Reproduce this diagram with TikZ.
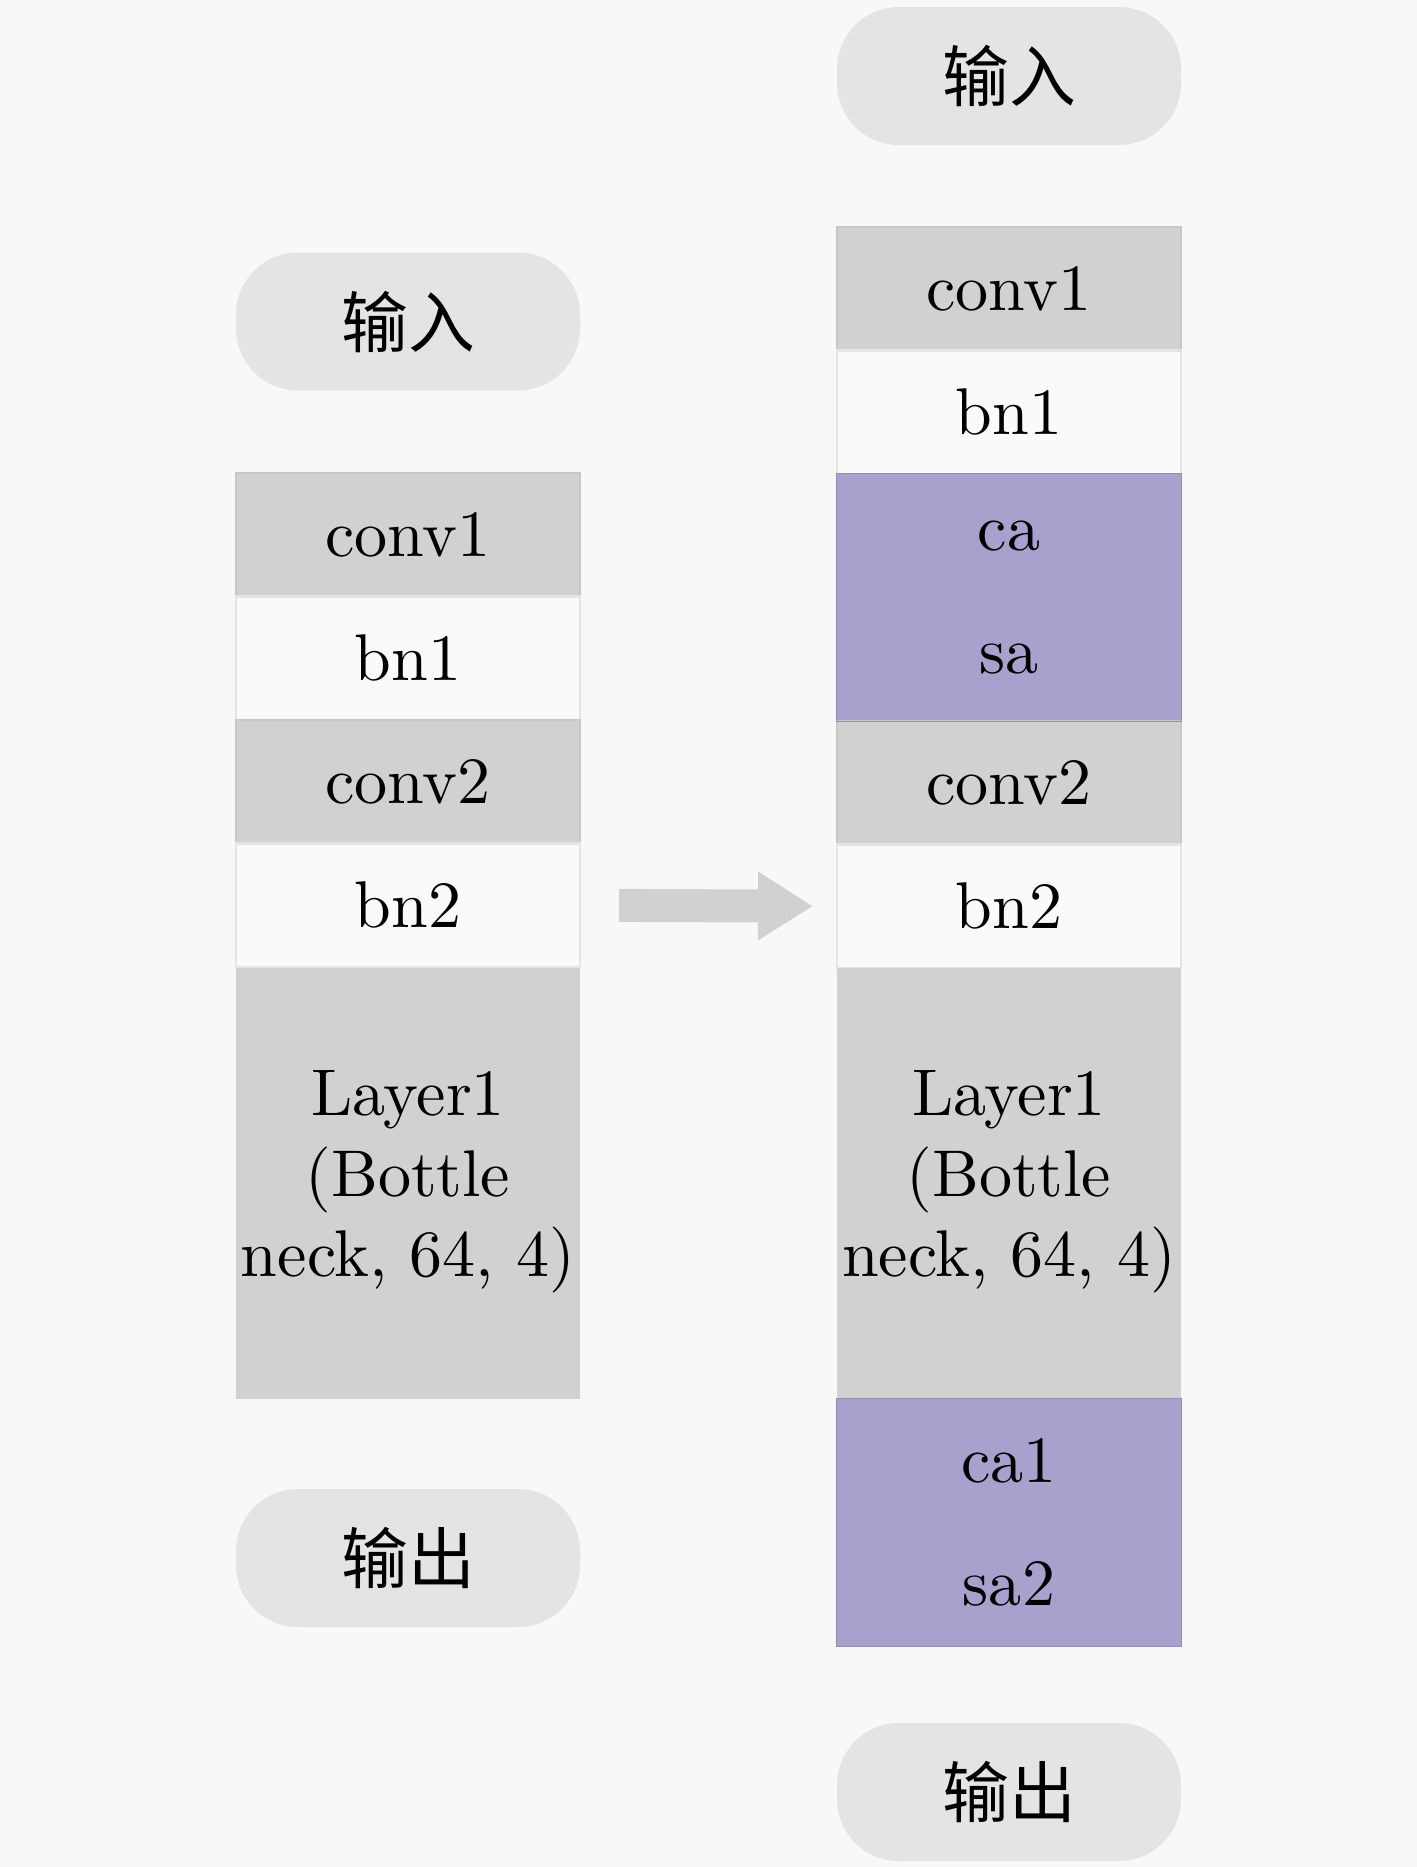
\documentclass[tikz,border=0pt]{standalone}
\usepackage{fontspec}
\usepackage{xcolor}
\usepackage{tikz}
\usetikzlibrary{arrows.meta}
\setmainfont{lmroman10-regular.otf}
\newfontfamily\cjk{Noto Sans CJK SC}
\definecolor{bgcol}{HTML}{F8F8F8}
\definecolor{pillcol}{HTML}{E4E4E4}
\definecolor{graycol}{HTML}{D1D1D1}
\definecolor{lightcol}{HTML}{FAFAFA}
\definecolor{purplecol}{HTML}{A7A1CD}

\begin{document}
\begin{tikzpicture}[every node/.style={font=\fontsize{18.8}{22.8}\selectfont, minimum width=3.44cm, inner sep=0pt},
	pill/.style={fill=pillcol, rounded corners=0.62cm, minimum height=1.38cm, font=\fontsize{19}{23}\selectfont\cjk},
	graybox/.style={fill=graycol, draw=graycol!95!black, line width=0.4pt, minimum height=1.235cm},
	whitebox/.style={fill=lightcol, draw=pillcol, line width=0.6pt, minimum height=1.235cm},
	attbox/.style={fill=purplecol, minimum height=1.235cm},
	bigbox/.style={fill=graycol, minimum height=4.31cm, align=center}]
	\useasboundingbox[fill=bgcol] (0,0) rectangle (14.17,-18.67);
	% original block
	\node[pill](lin) at (4.08,-3.215){输入};
	\node[graybox](lconv1) at (4.08,-5.3475){conv1};
	\node[whitebox](lbn1) at (4.08,-6.5825){bn1};
	\node[graybox](lconv2) at (4.08,-7.8175){conv2};
	\node[whitebox](lbn2) at (4.08,-9.0525){bn2};
	\node[bigbox](llayer) at (4.08,-11.835){Layer1\\(Bottle\\neck, 64, 4)\\[-0.6cm]};
	\node[pill](lout) at (4.08,-15.58){输出};
	% block with attention
	\node[pill](rin) at (10.09,-0.76){输入};
	\node[graybox](rconv1) at (10.09,-2.8875){conv1};
	\node[whitebox](rbn1) at (10.09,-4.1225){bn1};
	\node[attbox](rca) at (10.09,-5.3575){ca};
	\node[attbox](rsa) at (10.09,-6.5925){sa};
	\node[graybox](rconv2) at (10.09,-7.8275){conv2};
	\node[whitebox](rbn2) at (10.09,-9.0625){bn2};
	\node[bigbox](rlayer) at (10.09,-11.835){Layer1\\(Bottle\\neck, 64, 4)\\[-0.6cm]};
	\node[attbox](rca1) at (10.09,-14.6075){ca1};
	\node[attbox](rsa2) at (10.09,-15.8425){sa2};
	\node[pill](rout) at (10.09,-17.92){输出};
	\draw[purplecol!88!black, line width=0.4pt] (rca.north west) rectangle (rsa.south east);
	\draw[purplecol!88!black, line width=0.4pt] (rca1.north west) rectangle (rsa2.south east);
	\draw[graycol, line width=0.33cm, -{Triangle[length=0.55cm, width=0.65cm]}, shorten <=0.38cm, shorten >=0.23cm] (lbn2.east) -- (rbn2.west);
\end{tikzpicture}
\end{document}
